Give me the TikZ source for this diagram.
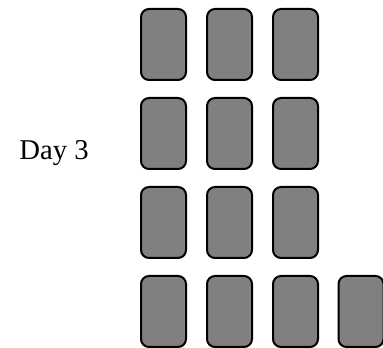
\documentclass[tikz,border=0pt]{standalone}
\usepackage{fontspec}
\setmainfont{Liberation Serif}
\usetikzlibrary{positioning}
\definecolor{cardgray}{HTML}{808080}

\tikzset{card/.style={draw=black, fill=cardgray, line width=1.5pt, rounded corners=6pt, minimum width=33.75pt, minimum height=53.25pt, inner sep=0pt}}

\begin{document}
\begin{tikzpicture}[x=0.75pt, y=-0.75pt]
\useasboundingbox (0,0) rectangle (383,348);
\node[font=\fontsize{21.5}{25}\selectfont] (day) at (54,153) {Day 3};

% row 1
\node[card] (c11) at (163.5,44.5) {};
\node[card] (c12) at (229.5,44.5) {};
\node[card] (c13) at (295.5,44.5) {};

% row 2
\node[card] (c21) at (163.5,133.5) {};
\node[card] (c22) at (229.5,133.5) {};
\node[card] (c23) at (295.5,133.5) {};

% row 3
\node[card] (c31) at (163.5,222.5) {};
\node[card] (c32) at (229.5,222.5) {};
\node[card] (c33) at (295.5,222.5) {};

% row 4
\node[card] (c41) at (163.5,311.5) {};
\node[card] (c42) at (229.5,311.5) {};
\node[card] (c43) at (295.5,311.5) {};
\node[card] (c44) at (361,311.5) {};
\end{tikzpicture}
\end{document}
